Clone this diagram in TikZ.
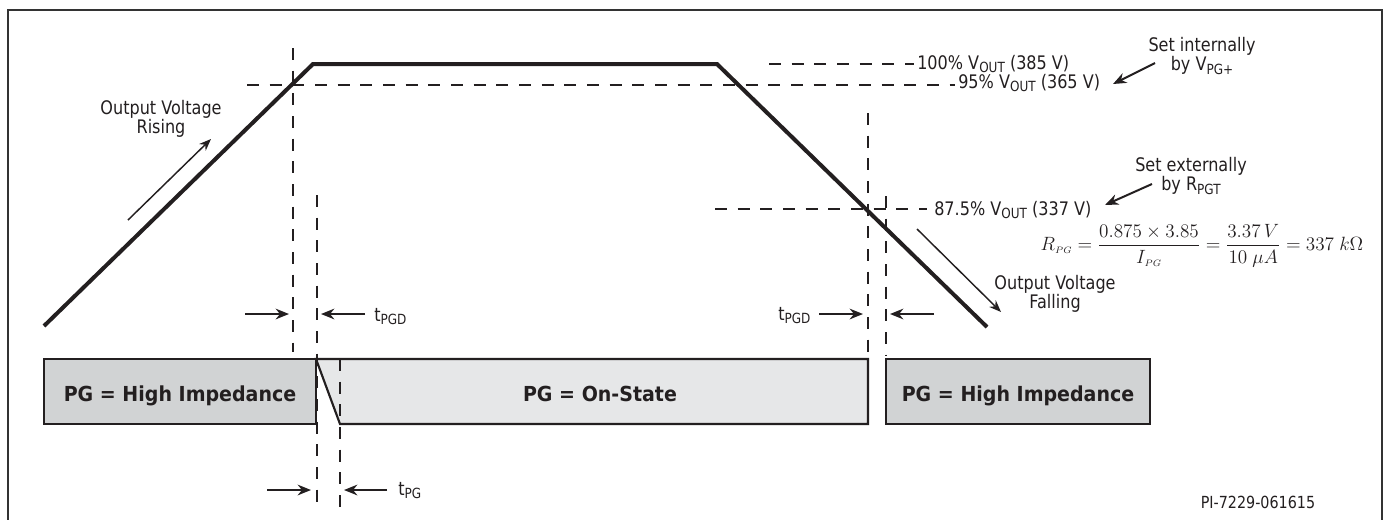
\documentclass[tikz,border=0pt]{standalone}
\usepackage{amsmath}
\usepackage{fontspec}
\setmainfont{DejaVu Sans}[FakeStretch=0.86]
\newfontfamily\boxfont{DejaVu Sans}[FakeStretch=0.92]
\usetikzlibrary{arrows.meta}
\definecolor{ink}{HTML}{231F20}
\definecolor{frame}{HTML}{333333}
\definecolor{hiz}{HTML}{D1D3D4}
\definecolor{onst}{HTML}{E6E7E8}
\newcommand\lsub[1]{\raisebox{-2.6pt}{\fontsize{10.5}{10.5}\selectfont #1}}
\tikzset{
  wave/.style={line width=3pt, draw=ink, line join=miter},
  guide/.style={line width=1.3pt, draw=ink, dash pattern=on 9pt off 8pt},
  thinarrow/.style={line width=1.1pt, draw=ink, -{Stealth[length=9pt,width=7pt]}},
  tarrow/.style={line width=1.5pt, draw=ink, -{Stealth[length=10pt,width=8pt]}},
  boxline/.style={line width=1.6pt, draw=ink},
  lbl/.style={text=ink, font=\fontsize{14}{13.5}\selectfont, inner sep=0pt},
  boxlbl/.style={text=ink, font=\boxfont\bfseries\fontsize{15.5}{16}\selectfont, inner sep=0pt}
}
\begin{document}
\begin{tikzpicture}[x=0.75pt,y=0.75pt,yscale=-1]
\useasboundingbox (0,0) rectangle (1385,519);
% frame
\draw[line width=1.9pt, draw=frame] (8,10) rectangle (1382,545);

% boxes
\filldraw[boxline, fill=hiz] (44,359) rectangle (316,424);
\filldraw[boxline, fill=onst] (316,359) -- (868,359) -- (868,424) -- (340,424) -- cycle;
\filldraw[boxline, fill=hiz] (886,359) rectangle (1150,424);
\node[boxlbl, anchor=base] (hz1) at (180,401) {PG = High Impedance};
\node[boxlbl, anchor=base] (on) at (600,401) {PG = On-State};
\node[boxlbl, anchor=base] (hz2) at (1018,401) {PG = High Impedance};

% guides
\draw[guide] (247,85) -- (955,85);
\draw[guide] (769,64) -- (914,64);
\draw[guide] (715,209) -- (927,209);
\draw[guide] (293,48) -- (293,352);
\draw[guide] (317,195) -- (317,507);
\draw[guide] (340,359) -- (340,507);
\draw[guide] (868,113) -- (868,355);
\draw[guide] (886,196) -- (886,355);

% waveform
\coordinate (w0) at (44,326);
\coordinate (w1) at (313,64);
\coordinate (w2) at (717,64);
\coordinate (w3) at (987,327);
\draw[wave] (w0) -- (w1) -- (w2) -- (w3);

% level labels
\node[lbl, anchor=base west] (l100) at (917,69) {100\% V\lsub{OUT} (385 V)};
\node[lbl, anchor=base west] (l95) at (958,88) {95\% V\lsub{OUT} (365 V)};
\node[lbl, anchor=base west] (l875) at (934,215) {87.5\% V\lsub{OUT} (337 V)};

\node[lbl, align=center] (rise) at (161,119) {Output Voltage\\Rising};
\node[lbl, align=center] (fall) at (1055,294) {Output Voltage\\Falling};
\node[lbl, align=center] (setint) at (1202,56) {Set internally\\by V\lsub{PG+}};
\node[lbl, align=center] (setext) at (1191,176) {Set externally\\by R\lsub{PGT}};

\coordinate (r0) at (128,220); \coordinate (r1) at (211,139);
\coordinate (f0) at (917,229); \coordinate (f1) at (1001,312);
\draw[thinarrow] (r0) -- (r1);
\draw[thinarrow] (f0) -- (f1);
\coordinate (si0) at (1155,63); \coordinate (si1) at (1113,84);
\coordinate (se0) at (1152,184); \coordinate (se1) at (1105,205);
\draw[tarrow] (si0) -- (si1);
\draw[tarrow] (se0) -- (se1);

% timing arrows
\draw[tarrow] (245,314) -- (289,314);
\draw[tarrow] (365,314) -- (321,314);
\node[lbl, anchor=base west] (tpgd1) at (374,321) {t\lsub{PGD}};
\draw[tarrow] (267,490) -- (311,490);
\draw[tarrow] (387,490) -- (344,490);
\node[lbl, anchor=base west] (tpg) at (398,495) {t\lsub{PG}};
\node[lbl, anchor=base west] (tpgd2) at (778,320) {t\lsub{PGD}};
\draw[tarrow] (819,314) -- (863,314);
\draw[tarrow] (934,314) -- (890,314);

% equation
\node[text=ink, font=\fontsize{14}{16}\selectfont, inner sep=0pt] (eq) at (1202,246)
  {$R_{\scriptscriptstyle PG} = \dfrac{0.875\times 3.85}{I_{\scriptscriptstyle PG}} = \dfrac{3.37\,V}{10\ \mu A} = 337\ k\Omega$};

\node[lbl, font=\fontsize{12.5}{13}\selectfont, anchor=base] (pi) at (1258,508) {PI-7229-061615};
\end{tikzpicture}
\end{document}
